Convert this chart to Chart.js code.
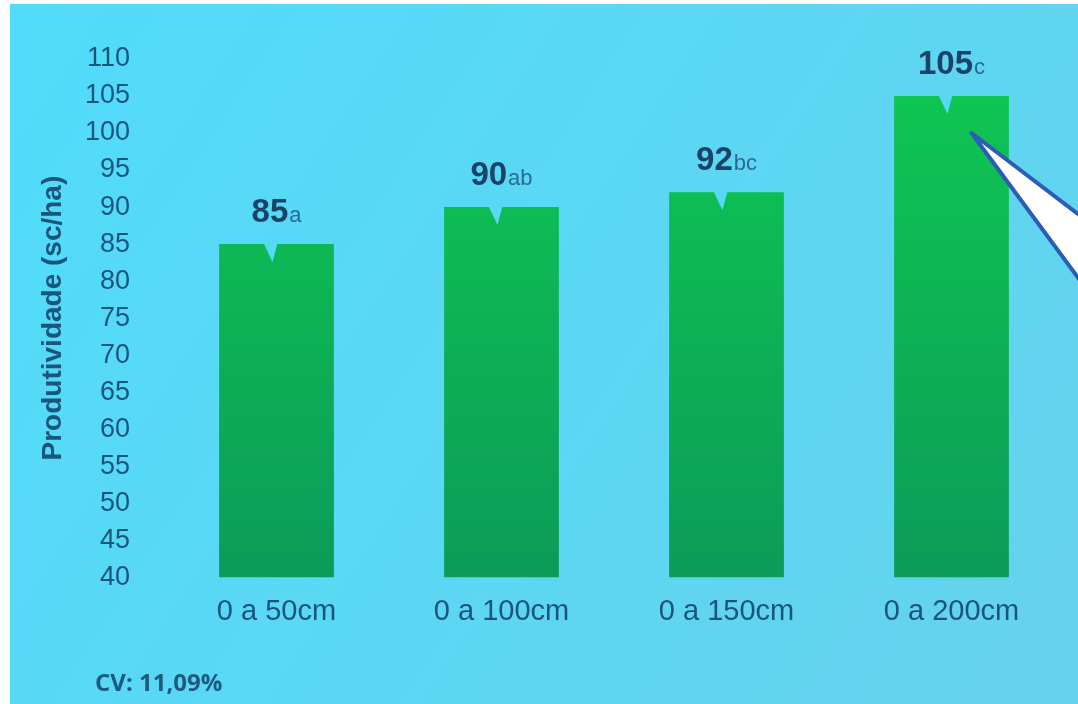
<!DOCTYPE html>
<html>
<head>
<meta charset="utf-8">
<title>Produtividade</title>
<script src="https://cdn.jsdelivr.net/npm/chart.js"></script>
<style>
    body { margin: 0 ; background: #ffffff ; overflow: hidden ; }
    #box { width: 1078px ; height: 704px ; position: relative ; }
</style>
</head>
<body>
<div id="box"><canvas id="myChart1"></canvas></div>
<script>
var categories = ["0 a 50cm" , "0 a 100cm" , "0 a 150cm" , "0 a 200cm"] ;
var produtividade = [85 , 90 , 92 , 105] ;
var letras = ["a" , "ab" , "bc" , "c"] ;
var yTicks = [40 , 45 , 50 , 55 , 60 , 65 , 70 , 75 , 80 , 85 , 90 , 95 , 100 , 105 , 110] ;
var cvText = "CV: 11,09%" ;

var textColor = "#1a557c" ;

// background of the slide photo (white edge on the left and top)
var slideBackground = {
    id : "slideBackground" ,
    beforeDraw : function(chart){
        var ctx = chart.ctx ;
        ctx.save() ;
        ctx.fillStyle = "#ffffff" ;
        ctx.fillRect(0 , 0 , chart.width , chart.height) ;
        var g = ctx.createLinearGradient(0 , 0 , chart.width , chart.height) ;
        g.addColorStop(0 , "#50dcfa") ;
        g.addColorStop(1 , "#66d2ec") ;
        ctx.fillStyle = g ;
        ctx.fillRect(10 , 4 , chart.width - 10 , chart.height - 4) ;
        ctx.restore() ;
    }
} ;

// value + letter above each bar, the little notch, the callout and the CV note
var barLabels = {
    id : "barLabels" ,
    afterDatasetsDraw : function(chart){
        var ctx = chart.ctx ;
        var meta = chart.getDatasetMeta(0) ;
        ctx.save() ;
        meta.data.forEach(function(bar , i){
            // notch
            ctx.fillStyle = "#57d9f4" ;
            ctx.beginPath() ;
            ctx.moveTo(bar.x - 13 , bar.y - 1) ;
            ctx.lineTo(bar.x + 1 , bar.y - 1) ;
            ctx.lineTo(bar.x - 4 , bar.y + 18) ;
            ctx.closePath() ;
            ctx.fill() ;

            var main = String(produtividade[i]) ;
            var suf = letras[i] ;
            ctx.font = "bold 33px 'Liberation Sans', Arial, sans-serif" ;
            var w1 = ctx.measureText(main).width ;
            ctx.font = "22px 'Liberation Sans', Arial, sans-serif" ;
            var w2 = ctx.measureText(suf).width ;
            var x0 = bar.x - (w1 + w2 + 1) / 2 ;
            var yb = bar.y - 22 ;
            ctx.textBaseline = "alphabetic" ;
            ctx.textAlign = "left" ;
            ctx.fillStyle = "#1b4268" ;
            ctx.font = "bold 33px 'Liberation Sans', Arial, sans-serif" ;
            ctx.fillText(main , x0 , yb) ;
            ctx.fillStyle = "#2a6a90" ;
            ctx.font = "22px 'Liberation Sans', Arial, sans-serif" ;
            ctx.fillText(suf , x0 + w1 + 1 , yb) ;
        }) ;

        // callout pointing at the last bar
        var last = meta.data[meta.data.length - 1] ;
        var tx = last.x + 20 , ty = last.y + 37 ;
        ctx.beginPath() ;
        ctx.moveTo(tx , ty) ;
        ctx.lineTo(chart.width + 4 , ty + 84) ;
        ctx.lineTo(chart.width + 4 , ty + 150) ;
        ctx.closePath() ;
        ctx.fillStyle = "#ffffff" ;
        ctx.fill() ;
        ctx.lineWidth = 4 ;
        ctx.lineJoin = "round" ;
        ctx.strokeStyle = "#2c5cb8" ;
        ctx.stroke() ;

        // CV note
        ctx.fillStyle = "#1d5a80" ;
        ctx.font = "bold 24px 'Open Sans', sans-serif" ;
        ctx.textAlign = "left" ;
        ctx.fillText(cvText , 95 , 691) ;
        ctx.restore() ;
    }
} ;

var myChart1 = document.getElementById("myChart1").getContext("2d") ;
var chart = new Chart(myChart1 , {
    type : "bar" ,
    data : {
        labels : categories ,
        datasets : [
            {
                label : "Produtividade" ,
                data : produtividade ,
                backgroundColor : function(c){
                    var ca = c.chart.chartArea ;
                    if(!ca) return "#0bb455" ;
                    var g = c.chart.ctx.createLinearGradient(0 , ca.top , 0 , ca.bottom) ;
                    g.addColorStop(0 , "#0fc852") ;
                    g.addColorStop(1 , "#0b9c58") ;
                    return g ;
                } ,
                borderWidth : 0 ,
                categoryPercentage : 1 ,
                barPercentage : 0.51
            }
        ]
    } ,
    options : {
        responsive : true ,
        maintainAspectRatio : false ,
        animation : false ,
        layout : { padding : { top : 59 , bottom : 58 , left : 0 , right : 14 } } ,
        plugins : {
            legend : { display : false } ,
            tooltip : { enabled : false }
        } ,
        scales : {
            x : {
                grid : { display : false , drawTicks : false } ,
                border : { display : false } ,
                ticks : {
                    color : textColor ,
                    padding : 17 ,
                    font : { family : "'Liberation Sans', Arial, sans-serif" , size : 29 }
                }
            } ,
            y : {
                min : 40 ,
                max : 110 ,
                afterFit : function(scale){ scale.width = 164 ; } ,
                afterBuildTicks : function(scale){
                    scale.ticks = yTicks.map(function(v){ return { value : v } ; }) ;
                } ,
                grid : { display : false , drawTicks : false } ,
                border : { display : false } ,
                ticks : {
                    color : textColor ,
                    padding : 34 ,
                    font : { family : "'Liberation Sans', Arial, sans-serif" , size : 27 }
                } ,
                title : {
                    display : true ,
                    text : "Produtividade (sc/ha)" ,
                    color : textColor ,
                    padding : { top : 36 , bottom : 0 } ,
                    font : { family : "'Liberation Sans', Arial, sans-serif" , size : 28 , weight : "bold" }
                }
            }
        }
    } ,
    plugins : [slideBackground , barLabels]
}) ;
</script>
</body>
</html>
